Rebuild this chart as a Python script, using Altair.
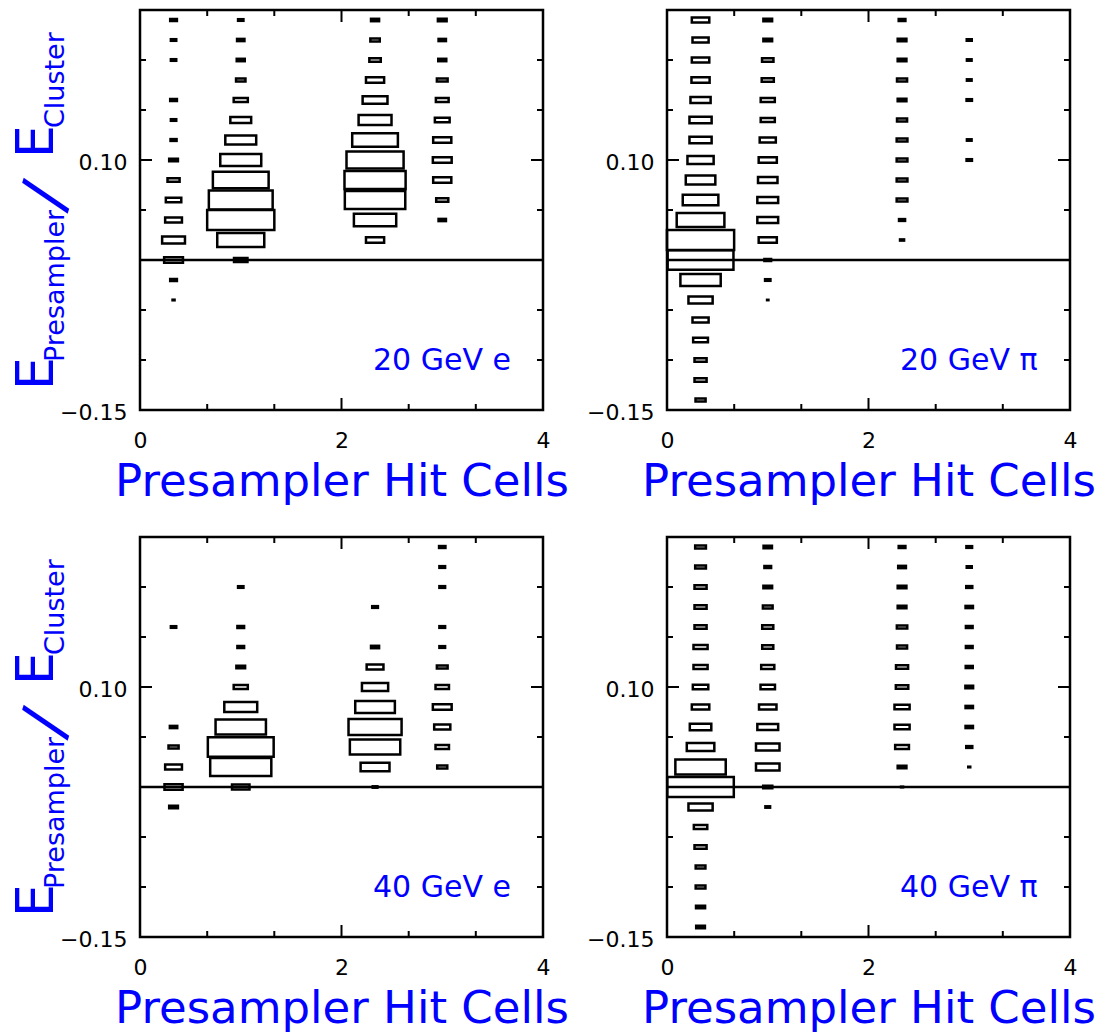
import altair as alt
import pandas as pd

# y-bin centres (E_presampler / E_cluster), top to bottom
y_bins = [0.24, 0.22, 0.20, 0.18, 0.16, 0.14, 0.12, 0.10, 0.08, 0.06,
          0.04, 0.02, 0.00, -0.02, -0.04, -0.06, -0.08, -0.10, -0.12, -0.14]
# x-bin centres (presampler hit cells)
x_bins = [0.333, 1.0, 2.333, 3.0]

# relative box size in each bin (1 = full bin), one list per x-bin
e20 = [
    [0.10, 0.08, 0.08, 0, 0.10, 0.08, 0.09, 0.13, 0.18, 0.23, 0.25, 0.34, 0.28, 0.10, 0.03, 0, 0, 0, 0, 0],
    [0.08, 0.11, 0.12, 0.14, 0.21, 0.31, 0.46, 0.61, 0.83, 0.95, 1.00, 0.70, 0.20, 0, 0, 0, 0, 0, 0, 0],
    [0.12, 0.14, 0.17, 0.27, 0.37, 0.49, 0.68, 0.85, 0.91, 0.90, 0.63, 0.27, 0, 0, 0, 0, 0, 0, 0, 0],
    [0.13, 0.11, 0.12, 0.16, 0.19, 0.22, 0.27, 0.28, 0.27, 0.18, 0.11, 0, 0, 0, 0, 0, 0, 0, 0, 0],
]
pi20 = [
    [0.26, 0.24, 0.26, 0.27, 0.30, 0.33, 0.33, 0.39, 0.44, 0.53, 0.71, 1.00, 0.98, 0.60, 0.36, 0.24, 0.22, 0.18, 0.18, 0.15],
    [0.13, 0.13, 0.17, 0.18, 0.21, 0.21, 0.24, 0.27, 0.29, 0.31, 0.31, 0.27, 0.10, 0.08, 0.02, 0, 0, 0, 0, 0],
    [0.10, 0.13, 0.13, 0.15, 0.13, 0.15, 0.16, 0.16, 0.16, 0.16, 0.09, 0.06, 0, 0, 0, 0, 0, 0, 0, 0],
    [0, 0.075, 0.07, 0.07, 0.08, 0, 0.07, 0.08, 0, 0, 0, 0, 0, 0, 0, 0, 0, 0, 0, 0],
]
e40 = [
    [0, 0, 0, 0, 0.08, 0, 0, 0, 0, 0.11, 0.15, 0.25, 0.27, 0.13, 0, 0, 0, 0, 0, 0],
    [0, 0, 0.08, 0, 0.10, 0.10, 0.13, 0.21, 0.49, 0.75, 0.98, 0.91, 0.26, 0, 0, 0, 0, 0, 0, 0],
    [0, 0, 0, 0.085, 0, 0.12, 0.25, 0.39, 0.59, 0.79, 0.75, 0.43, 0.07, 0, 0, 0, 0, 0, 0, 0],
    [0.095, 0.085, 0.085, 0, 0.085, 0.085, 0.16, 0.20, 0.28, 0.24, 0.20, 0.15, 0, 0, 0, 0, 0, 0, 0, 0],
]
pi40 = [
    [0.16, 0.16, 0.18, 0.18, 0.18, 0.21, 0.21, 0.23, 0.26, 0.32, 0.41, 0.75, 0.99, 0.36, 0.20, 0.18, 0.145, 0.145, 0.135, 0.13],
    [0.125, 0.10, 0.13, 0.145, 0.165, 0.165, 0.195, 0.215, 0.26, 0.31, 0.35, 0.35, 0.135, 0.07, 0, 0, 0, 0, 0, 0],
    [0.10, 0.115, 0.13, 0.13, 0.155, 0.15, 0.18, 0.185, 0.225, 0.225, 0.205, 0.13, 0.03, 0, 0, 0, 0, 0, 0, 0],
    [0.085, 0.075, 0.09, 0.11, 0.10, 0.10, 0.105, 0.115, 0.11, 0.11, 0.09, 0.03, 0, 0, 0, 0, 0, 0, 0, 0],
]

panel_labels = ["20 GeV e", "20 GeV π", "40 GeV e", "40 GeV π"]
panel_data = [e20, pi20, e40, pi40]
panel_has_ytitle = [True, False, True, False]

x_title = "Presampler Hit Cells"
ytitle_parts = ["E", "Presampler", "/", "E", "Cluster"]

x_label_values = [0, 2, 4]
y_label_values = [-0.15, 0.10]
x_major_ticks = [2]
x_minor_ticks = [0.667, 1.333, 2.667, 3.333]
y_major_ticks = [0.10]
y_minor_ticks = [-0.10, -0.05, 0.00, 0.05, 0.15, 0.20]

W, H = 403, 400
BIN_W, BIN_H = 2.0 / 3.0, 0.02
BLUE = "#0000ff"
FONT = "DejaVu Sans"

xs = alt.Scale(domain=[0, 4], nice=False, zero=False)
ys = alt.Scale(domain=[-0.15, 0.25], nice=False, zero=False)

X_AXIS = alt.Axis(
    values=x_label_values, format="d", title=x_title, labelFlush=False,
    labelPadding=20, titlePadding=8, titleFontSize=45, titleColor=BLUE,
    titleFont=FONT, titleFontWeight="normal")
Y_AXIS = alt.Axis(values=y_label_values, format=".2f", title=None, labelPadding=13, labelOffset=2)

# rotated y title pieces: (size, angle, x offset, y offset) relative to the plot area
ytitle_layout = [(52, 270, -87, 380), (27, 270, -76, 352), (64, 287, -78, 202),
                 (52, 270, -87, 148), (27, 270, -76, 118)]


def build_df(cols):
    rows = []
    for xc, col in zip(x_bins, cols):
        for yc, s in zip(y_bins, col):
            if s > 0:
                rows.append({"xc": xc, "yc": yc, "s": s})
    return pd.DataFrame(rows)


def tick_layer(values, orient, length):
    df = pd.DataFrame({"v": values})
    base = alt.Chart(df).mark_rule(color="black", strokeWidth=2)
    if orient == "left":
        return base.encode(y=alt.Y("v:Q", scale=ys, axis=Y_AXIS), x=alt.value(0), x2=alt.value(length))
    if orient == "right":
        return base.encode(y=alt.Y("v:Q", scale=ys, axis=Y_AXIS), x=alt.value(W - length), x2=alt.value(W))
    if orient == "bottom":
        return base.encode(x=alt.X("v:Q", scale=xs, axis=X_AXIS), y=alt.value(H), y2=alt.value(H - length))
    return base.encode(x=alt.X("v:Q", scale=xs, axis=X_AXIS), y=alt.value(0), y2=alt.value(length))


def panel(cols, label, ytitle):
    df = build_df(cols)
    boxes = alt.Chart(df).transform_calculate(
        xa=f"datum.xc - datum.s * {BIN_W / 2}",
        xb=f"datum.xc + datum.s * {BIN_W / 2}",
        ya=f"datum.yc - datum.s * {BIN_H / 2}",
        yb=f"datum.yc + datum.s * {BIN_H / 2}",
    ).mark_rect(fill="transparent", stroke="black", strokeWidth=2.5).encode(
        x=alt.X("xa:Q", scale=xs, axis=X_AXIS),
        x2="xb:Q",
        y=alt.Y("ya:Q", scale=ys, axis=Y_AXIS),
        y2="yb:Q",
    )
    zero = alt.Chart(pd.DataFrame({"v": [0.0]})).mark_rule(color="black", strokeWidth=2.5).encode(
        y=alt.Y("v:Q", scale=ys, axis=Y_AXIS))
    layers = [boxes, zero,
              tick_layer(y_major_ticks, "left", 12), tick_layer(y_minor_ticks, "left", 6),
              tick_layer(y_major_ticks, "right", 12), tick_layer(y_minor_ticks, "right", 6),
              tick_layer(x_major_ticks, "bottom", 12), tick_layer(x_minor_ticks, "bottom", 6),
              tick_layer(x_major_ticks, "top", 12), tick_layer(x_minor_ticks, "top", 6)]
    txt = alt.Chart(pd.DataFrame({"t": [label]})).mark_text(
        align="left", baseline="alphabetic", fontSize=30, color=BLUE, font=FONT
    ).encode(text="t:N", x=alt.value(233), y=alt.value(360))
    layers.append(txt)
    if ytitle:
        for part, (size, ang, dx, dy) in zip(ytitle_parts, ytitle_layout):
            layers.append(alt.Chart(pd.DataFrame({"t": [part]})).mark_text(
                align="left", baseline="alphabetic", angle=ang, fontSize=size, color=BLUE, font=FONT
            ).encode(text="t:N", x=alt.value(dx), y=alt.value(dy)))
    return alt.layer(*layers).properties(width=W, height=H)


charts = [panel(c, l, t) for c, l, t in zip(panel_data, panel_labels, panel_has_ytitle)]

chart = alt.concat(
    *charts, columns=2, spacing={"row": 127, "column": 124}, bounds="flush"
).properties(
    autosize=alt.AutoSizeParams(type="none"),
    padding={"left": 140, "top": 10, "right": 960, "bottom": 1024},
).configure_view(
    stroke="black", strokeWidth=2.5
).configure_axis(
    labelFont=FONT, labelFontSize=22, labelColor="black",
    domain=False, ticks=False, tickSize=0, grid=False,
)

chart.save("out.html", embed_options={"renderer": "svg", "actions": False})
